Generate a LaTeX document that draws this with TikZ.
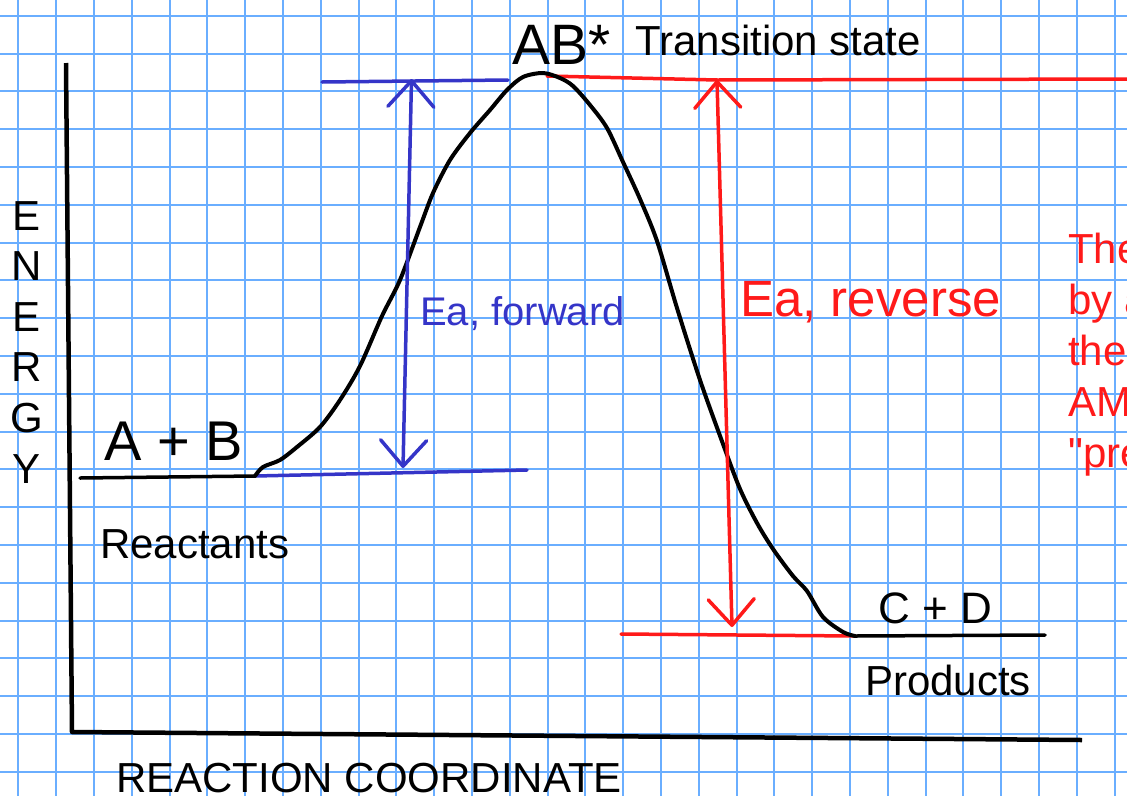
\documentclass[tikz,border=0pt]{standalone}
\usepackage{fontspec}
\setmainfont{Liberation Sans}
\newfontfamily\plainquote{Liberation Sans}
\usetikzlibrary{arrows.meta}
\definecolor{gridline}{HTML}{6AAEFF}
\definecolor{eaFwd}{HTML}{3535C8}
\definecolor{eaRev}{HTML}{FF1A1A}

\begin{document}
\begin{tikzpicture}[x=1pt,y=-1pt,
  lbl/.style={inner sep=0pt,anchor=base west,font=\fontsize{42}{50}\selectfont},
  hand/.style={inner sep=0pt,anchor=base west},
  level/.style={line width=3.5pt,line cap=round},
  ea/.style={level,arrows={Straight Barb[length=26pt,width=46pt,round]-Straight Barb[length=26pt,width=46pt,round]}}]
\useasboundingbox (0,0) rectangle (1127,796);
\clip (0,0) rectangle (1127,796);
\fill[white] (0,0) rectangle (1127,796);
\foreach \k in {0,...,29}
  \draw[gridline,line width=2pt] ({18.3+37.8*\k},0) -- ({18.3+37.8*\k},796);
\foreach \k in {0,...,20}
  \draw[gridline,line width=2pt] (0,{15.7+37.8*\k}) -- (1127,{15.7+37.8*\k});

\draw[line width=4.5pt,line join=round] (66,63) -- (72,732) -- (1082,740);

\coordinate (reacL) at (80,478);
\coordinate (reacR) at (255,476);
\coordinate (prodL) at (855,636);
\coordinate (prodR) at (1045,635);
\coordinate (fwdTop) at (411.5,79);
\coordinate (fwdBot) at (403,468);
\coordinate (revTop) at (717,80);
\coordinate (revBot) at (732,627);

\draw[line width=3.5pt,line cap=round] (reacL) -- (reacR);
\draw[line width=3.5pt,line cap=round] (prodL) -- (prodR);
\draw[level,eaFwd] (reacR) -- (527,470);
\draw[level,eaFwd] (322,82) -- (508,80);
\draw[level,eaRev] (547,76) -- (revTop);
\draw[level,eaRev] (revTop) -- (1130,79);
\draw[level,eaRev] (621,634) -- (prodL);

\draw[line width=4pt,line cap=round,line join=round] plot[smooth,tension=0.5] coordinates {
  (255,476) (263,467) (280,460) (297,447) (320,427) (340,400) (360,366)
  (382,316) (400,280) (420,227) (433,193) (450,160) (470,133) (490,110)
  (507,90) (523,77) (543,73) (560,78) (573,86) (590,105) (607,128)
  (623,162) (640,199) (657,241) (677,308) (700,380) (723,444) (740,489)
  (757,523) (773,549) (793,576) (807,591) (823,617) (843,632) (855,636)};

\draw[ea,eaFwd] (fwdBot) -- (fwdTop);
\draw[ea,eaRev] (revTop) -- (revBot);

\node[hand,font=\fontsize{57}{57}\selectfont] (ts) at (512,64) {AB*};
\node[lbl] (tslabel) at (635,55) {Transition state};
\node[hand,font=\fontsize{56}{56}\selectfont] (reac) at (104,460) {A + B};
\node[hand,font=\fontsize{44}{44}\selectfont] (prod) at (878,623) {C + D};
\node[lbl] (reaclabel) at (100,558) {Reactants};
\node[lbl] (prodlabel) at (865,695) {Products};
\node[hand,eaFwd,font=\fontsize{40}{40}\selectfont] (eafwd) at (420,325) {Ea, forward};
\node[hand,eaRev,font=\fontsize{51}{51}\selectfont] (earev) at (740,316) {Ea, reverse};

\foreach \l [count=\i] in {E,N,E,R,G,Y}
  \node[lbl,anchor=base] (energy\i) at (27,{230+50.6*(\i-1)}) {\l};
\node[lbl] (xlabel) at (116,792) {REACTION COORDINATE};

\foreach \t [count=\i] in {The,by a,the,AM,{\plainquote"}pre}
  \node[lbl,eaRev] (note\i) at (1068,{263+51*(\i-1)}) {\t};
\end{tikzpicture}
\end{document}
